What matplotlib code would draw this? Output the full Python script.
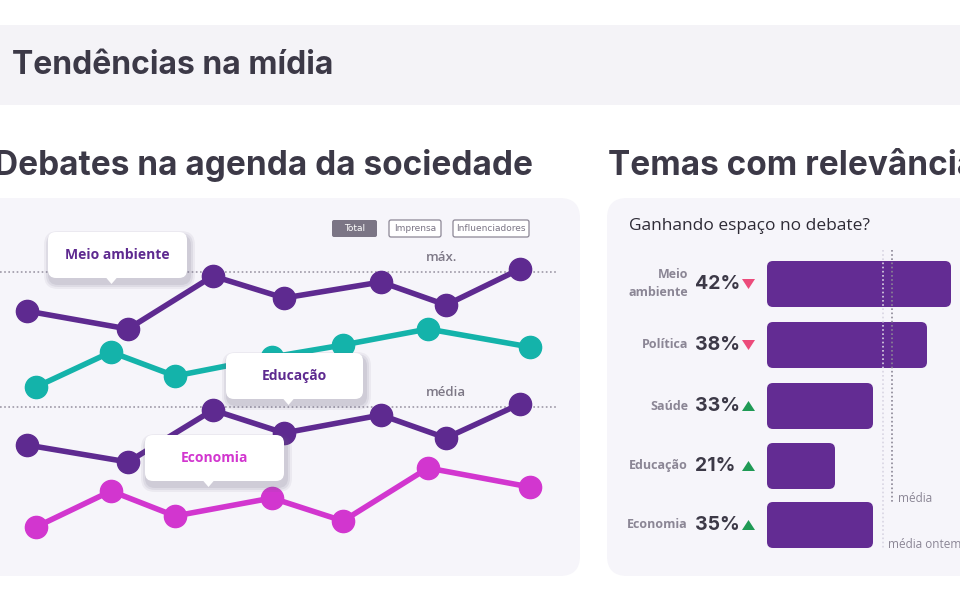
import matplotlib.pyplot as plt
from matplotlib.patches import FancyBboxPatch, Rectangle, Polygon

# series (read in screen units of the panel, smaller = higher)
x_purple = [27, 128, 213, 284, 381, 446, 520]
x_other = [36, 111, 175, 272, 343, 428, 530]
meio_ambiente = [311, 329, 276, 298, 282, 305, 269]
educacao = [387, 352, 376, 357, 345, 329, 347]
politica = [445, 462, 410, 433, 415, 438, 404]
economia = [527, 491, 516, 498, 521, 468, 487]
ref_max = 272
ref_media = 407

temas = ['Meio\nambiente', 'Política', 'Saúde', 'Educação', 'Economia']
pct = ['42%', '38%', '33%', '21%', '35%']
subiu = [False, False, True, True, True]
bar_end = [951, 927, 873, 835, 873]
media_x = 892
media_ontem_x = 883

PURPLE = '#5e2a90'
TEAL = '#14b3aa'
MAGENTA = '#d236cf'
DARK = '#3c3947'
GRAY = '#8b8695'

fig = plt.figure(figsize=(9.6, 6), dpi=100)


def pixel_axes():
    a = fig.add_axes([0, 0, 1, 1])
    a.set_xlim(0, 960)
    a.set_ylim(600, 0)
    a.axis('off')
    a.patch.set_alpha(0)
    return a


def rbox(ax, x0, y0, x1, y1, r, fc, ec='none', lw=0, z=1, alpha=1):
    p = FancyBboxPatch((x0 + r, y0 + r), x1 - x0 - 2 * r, y1 - y0 - 2 * r,
                       boxstyle='round,pad=%g' % r, fc=fc, ec=ec, lw=lw, zorder=z,
                       alpha=alpha)
    ax.add_patch(p)


bg = pixel_axes()

# header band
bg.add_patch(Rectangle((0, 25), 960, 80, fc='#f4f3f7', zorder=0))
bg.text(12, 66, 'Tendências na mídia', fontsize=23, fontweight='bold', family='Inter',
        color=DARK, va='center')
bg.text(-6, 166, 'Debates na agenda da sociedade', fontsize=24, fontweight='bold',
        family='Inter', color=DARK, va='center')
bg.text(608, 166, 'Temas com relevância', fontsize=24, fontweight='bold',
        family='Inter', color=DARK, va='center')

# cards
rbox(bg, -20, 198, 580, 576, 20, '#f6f5fa', z=0)
rbox(bg, 607, 198, 990, 576, 20, '#f6f5fa', z=0)

# ---- left: line chart
ax = pixel_axes()
for yv, lab in [(ref_max, 'máx.'), (ref_media, 'média')]:
    ax.plot([0, 558], [yv, yv], ls=(0, (1, 1.5)), color='#9d98a6', lw=1.2, zorder=2)
    ax.text(426, yv - 8, lab, fontsize=9.5, color='#7d7886', family='Open Sans',
            fontweight='semibold', va='bottom')
for xs, ys, c in [(x_purple, meio_ambiente, PURPLE), (x_other, educacao, TEAL),
                  (x_purple, politica, PURPLE), (x_other, economia, MAGENTA)]:
    ax.plot(xs, ys, color=c, lw=4, marker='o', ms=16, zorder=3)

top = pixel_axes()
# buttons
rbox(top, 332, 220, 377, 237, 2, '#7b7585', z=4)
top.text(354.5, 228.5, 'Total', fontsize=6.5, color='white', ha='center', va='center',
         zorder=5)
for x0, x1, t in [(389, 441, 'Imprensa'), (453, 529, 'Influenciadores')]:
    rbox(top, x0, 220, x1, 237, 2, 'white', ec='#8b8695', lw=0.9, z=4)
    top.text((x0 + x1) / 2, 228.5, t, fontsize=6.5, color='#7b7585', ha='center',
             va='center', zorder=5)

# tooltips
for x0, y0, x1, y1, t, c in [(48, 232, 187, 278, 'Meio ambiente', PURPLE),
                             (226, 353, 363, 399, 'Educação', PURPLE),
                             (145, 435, 284, 481, 'Economia', MAGENTA)]:
    for k, a in [(6, 0.08), (4, 0.1), (2, 0.12)]:
        rbox(top, x0 - k + 2, y0 - k + 5, x1 + k + 2, y1 + k + 5, 8 + k, '#6a6480',
             z=5, alpha=a)
    rbox(top, x0, y0, x1, y1, 8, 'white', z=6)
    cx = (x0 + x1) / 2 - 6
    top.add_patch(Polygon([[cx - 6, y1 - 1], [cx + 6, y1 - 1], [cx, y1 + 6]], fc='white',
                          ec='none', zorder=6))
    top.text((x0 + x1) / 2, (y0 + y1) / 2, t, fontsize=10, fontweight='bold', color=c,
             family='Open Sans', ha='center', va='center', zorder=7)

# ---- right: bars
top.text(629, 226, 'Ganhando espaço no debate?', fontsize=12.5, color='#2e2b36',
         family='Open Sans', va='center')
rows = [284, 345, 406, 466, 525]
for i, t in enumerate(temas):
    y = rows[i]
    rbox(bg, 767, y - 23, bar_end[i], y + 23, 6, '#632c93', z=2)
    top.text(688, y, t, fontsize=9, fontweight='bold', color=GRAY, family='Open Sans',
             ha='right', va='center', linespacing=1.5)
    top.text(695, y, pct[i], fontsize=14, fontweight='bold', color=DARK, family='Inter',
             va='center')
    if subiu[i]:
        tri = [[742, y + 5], [755, y + 5], [748.5, y - 5]]
        col = '#1f9a55'
    else:
        tri = [[742, y - 5], [755, y - 5], [748.5, y + 5]]
        col = '#ec4b7b'
    top.add_patch(Polygon(tri, fc=col, ec='none', zorder=3))
bg.plot([media_ontem_x, media_ontem_x], [250, 550], ls=(0, (1, 1.5)), color='#d9d5e3',
        lw=1.2, zorder=4)
bg.plot([media_x, media_x], [250, 502], ls=(0, (1, 1.5)), color='#8b8695', lw=1.2, zorder=4)
top.text(898, 498, 'média', fontsize=8.5, color=GRAY, family='Open Sans', va='center')
top.text(888, 545, 'média ontem', fontsize=8.5, color=GRAY, family='Open Sans', va='center')

fig.savefig('out.png', dpi=100, facecolor='white')
